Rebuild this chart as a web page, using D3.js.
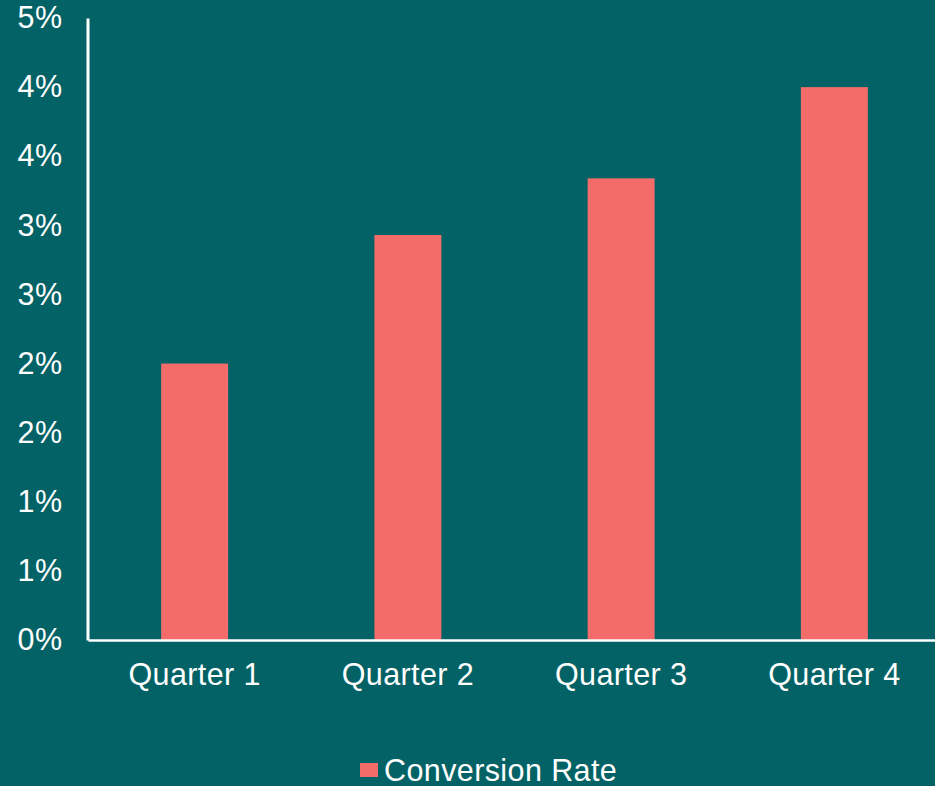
<!DOCTYPE html>
<html>
<head>
<meta charset="utf-8">
<script src="https://cdn.jsdelivr.net/npm/d3@7"></script>
<style>
html, body { margin: 0; padding: 0; background: #036266; overflow: hidden; }
svg { display: block; }
text { font-family: "Liberation Sans", Arial, sans-serif; fill: #ffffff; }
</style>
</head>
<body>
<svg id="chart" width="935" height="786"></svg>
<script>
const categories = ["Quarter 1", "Quarter 2", "Quarter 3", "Quarter 4"];
const conversionRate = [0.020, 0.0293, 0.0334, 0.040];
const seriesName = "Conversion Rate";
const tickValues = [0, 0.005, 0.01, 0.015, 0.02, 0.025, 0.03, 0.035, 0.04, 0.045];
const tickLabels = ["0%", "1%", "1%", "2%", "2%", "3%", "3%", "4%", "4%", "5%"];

const W = 935, H = 786;
const svg = d3.select("#chart");
svg.append("rect").attr("width", W).attr("height", H).attr("fill", "#036266");

const x = d3.scaleBand().domain(categories).range([88, 941])
  .paddingInner(0.686).paddingOuter(0.343);
const y = d3.scaleLinear().domain([0, 0.045]).range([640, 18]);

// bars
svg.append("g").selectAll("rect").data(categories).join("rect")
  .attr("x", d => x(d))
  .attr("width", x.bandwidth())
  .attr("y", (d, i) => y(conversionRate[i]))
  .attr("height", (d, i) => y(0) - y(conversionRate[i]))
  .attr("fill", "#f36c6a");

const fontSize = "30.5px";

// y axis
const yAxis = d3.axisLeft(y).tickValues(tickValues)
  .tickFormat((d, i) => tickLabels[i]).tickSize(0).tickPadding(25);
const gy = svg.append("g").attr("transform", "translate(87.5,0)").call(yAxis);
gy.select(".domain").attr("stroke", "#ffffff").attr("stroke-width", 3);
gy.selectAll("text").style("font-size", fontSize).style("letter-spacing", "0.4px")
  .attr("fill", "#ffffff")
  .attr("font-family", "Liberation Sans, Arial, sans-serif").attr("dy", "0.32em");

// x axis
const xAxis = d3.axisBottom(x).tickSize(0).tickPadding(23);
const gx = svg.append("g").attr("transform", "translate(0,640)").call(xAxis);
gx.select(".domain").attr("stroke", "#ffffff").attr("stroke-width", 2.5);
gx.selectAll("text").style("font-size", fontSize).style("letter-spacing", "0.4px")
  .attr("fill", "#ffffff")
  .attr("font-family", "Liberation Sans, Arial, sans-serif");

// legend
const lg = svg.append("g");
lg.append("rect").attr("x", 360).attr("y", 763).attr("width", 18).attr("height", 14).attr("fill", "#f36c6a");
lg.append("text").attr("x", 384).attr("y", 781).style("font-size", fontSize)
  .style("letter-spacing", "0.4px").text(seriesName);
</script>
</body>
</html>
